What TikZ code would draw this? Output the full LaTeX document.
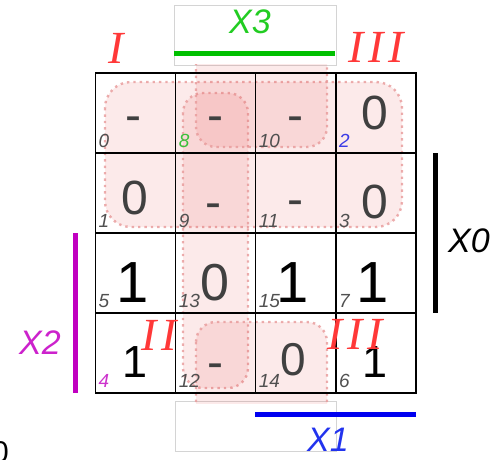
\documentclass[tikz,border=0pt]{standalone}
\usepackage{fontspec}
\setsansfont{Liberation Sans}
\newfontfamily\romanfont{Liberation Serif}
\usepackage{xcolor}
\usepackage{tikz}
\usetikzlibrary{positioning}
\definecolor{grpfill}{HTML}{E65050}
\definecolor{grpline}{HTML}{E89A9A}
\definecolor{framegray}{HTML}{D4D4D4}
\definecolor{valgray}{HTML}{404040}
\definecolor{idxgray}{HTML}{505050}
\definecolor{idxgreen}{HTML}{3CC03C}
\definecolor{idxblue}{HTML}{3C3CE6}
\definecolor{idxmag}{HTML}{CC33CC}
\definecolor{bargreen}{HTML}{00C000}
\definecolor{barblue}{HTML}{0000F0}
\definecolor{barmag}{HTML}{C000C0}
\definecolor{lblgreen}{HTML}{22CC22}
\definecolor{lblblue}{HTML}{2233EE}
\definecolor{lblmag}{HTML}{CC22CC}
\definecolor{romred}{HTML}{FF3838}
\tikzset{
  frame/.style={draw=framegray, line width=.8pt},
  grp/.style={fill=grpfill, fill opacity=.12, draw=grpline, draw opacity=.8, line width=2.4pt, dash pattern=on 2.4pt off 4pt},
  gridline/.style={draw=black, line width=1.4pt},
  val/.style={font=\sffamily\fontsize{#1}{#1}\selectfont, inner sep=0pt},
  idx/.style={font=\sffamily\itshape\fontsize{19}{19}\selectfont, inner sep=0pt, anchor=south west},
  varbar/.style={line width=5pt},
  varlbl/.style={font=\sffamily\itshape\fontsize{34}{34}\selectfont, inner sep=0pt},
  rom/.style={font=\romanfont\itshape\fontsize{46}{46}\selectfont, text=romred, inner sep=0pt},
}
\begin{document}
\begin{tikzpicture}[x=1pt,y=-1pt]
  \useasboundingbox (0,0) rectangle (499,459);
  % frames of the wrapped group
  \draw[frame] (174,5) rectangle (336,65);
  \draw[frame] (175,401) rectangle (336,451);
  % groups
  \path[grp, rounded corners=26pt] (105,82) rectangle (402,227);
  \path[grp, rounded corners=20pt] (183,93) rectangle (248,388);
  \begin{scope}
    \clip (150,64) rectangle (420,403);
    \path[grp, rounded corners=20pt] (196,30) rectangle (327,147);
    \path[grp, rounded corners=20pt] (196,322) rectangle (327,440);
  \end{scope}
  % map grid
  \draw[gridline] (95.5,73) rectangle (415.9,393);
  \foreach \i in {1,2,3}{
    \draw[gridline] (95.5+80.1*\i,73) -- (95.5+80.1*\i,393);
    \draw[gridline] (95.5,73+80*\i) -- (415.9,73+80*\i);
  }
  % cell values
  \foreach \n/\x/\y/\s/\t/\c in {c0/133/124/48/-/valgray, c8/215/124/48/-/valgray, c10/295/124/48/-/valgray, c2/375/113/48/0/valgray,
      c1/135/198/48/0/valgray, c9/213/211/48/-/valgray, c11/295/208/48/-/valgray, c3/375/202/48/0/valgray,
      c5/133/283/58/1/black, c13/215/283/52/0/valgray, c15/293/283/58/1/black, c7/373/283/58/1/black,
      c4/135/362/45/1/black, c12/215/371/48/-/valgray, c14/293/360/46/0/valgray, c6/375/362/45/1/black}{
    \node[val=\s, text=\c] (\n) at (\x,\y) {\t};
  }
  % cell numbers
  \foreach \k/\col/\row/\c in {0/0/0/idxgray, 8/1/0/idxgreen, 10/2/0/idxgray, 2/3/0/idxblue,
      1/0/1/idxgray, 9/1/1/idxgray, 11/2/1/idxgray, 3/3/1/idxgray,
      5/0/2/idxgray, 13/1/2/idxgray, 15/2/2/idxgray, 7/3/2/idxgray,
      4/0/3/idxmag, 12/1/3/idxgray, 14/2/3/idxgray, 6/3/3/idxgray}{
    \node[idx, text=\c] (n\k) at (98.5+80.1*\col,148+80*\row) {\k};
  }
  % variable bars
  \coordinate (x3a) at (174,53);  \coordinate (x3b) at (335,53);
  \coordinate (x1a) at (255,414); \coordinate (x1b) at (416,414);
  \coordinate (x2a) at (75,233);  \coordinate (x2b) at (75,393);
  \coordinate (x0a) at (435,153); \coordinate (x0b) at (435,313);
  \draw[varbar, draw=bargreen] (x3a) -- (x3b);
  \draw[varbar, draw=barblue] (x1a) -- (x1b);
  \draw[varbar, draw=barmag] (x2a) -- (x2b);
  \draw[varbar, draw=black] (x0a) -- (x0b);
  \node[varlbl, text=lblgreen] (lx3) at (250,22) {X3};
  \node[varlbl, text=lblblue] (lx1) at (328,440) {X1};
  \node[varlbl, text=lblmag] (lx2) at (40,343) {X2};
  \node[varlbl, text=black] (lx0) at (469,241) {X0};
  % group names
  \node[rom] (gI) at (116,48) {I};
  \node[rom] (gIIIa) at (376,47) {I\kern4.5pt I\kern4.5pt I};
  \node[rom] (gII) at (159,335) {I\kern4.5pt I};
  \node[rom] (gIIIb) at (355,334) {I\kern4.5pt I\kern4.5pt I};
  % cut-off glyph at the lower left
  \node[val=30, anchor=north east] (cut) at (9,441) {0};
\end{tikzpicture}
\end{document}
